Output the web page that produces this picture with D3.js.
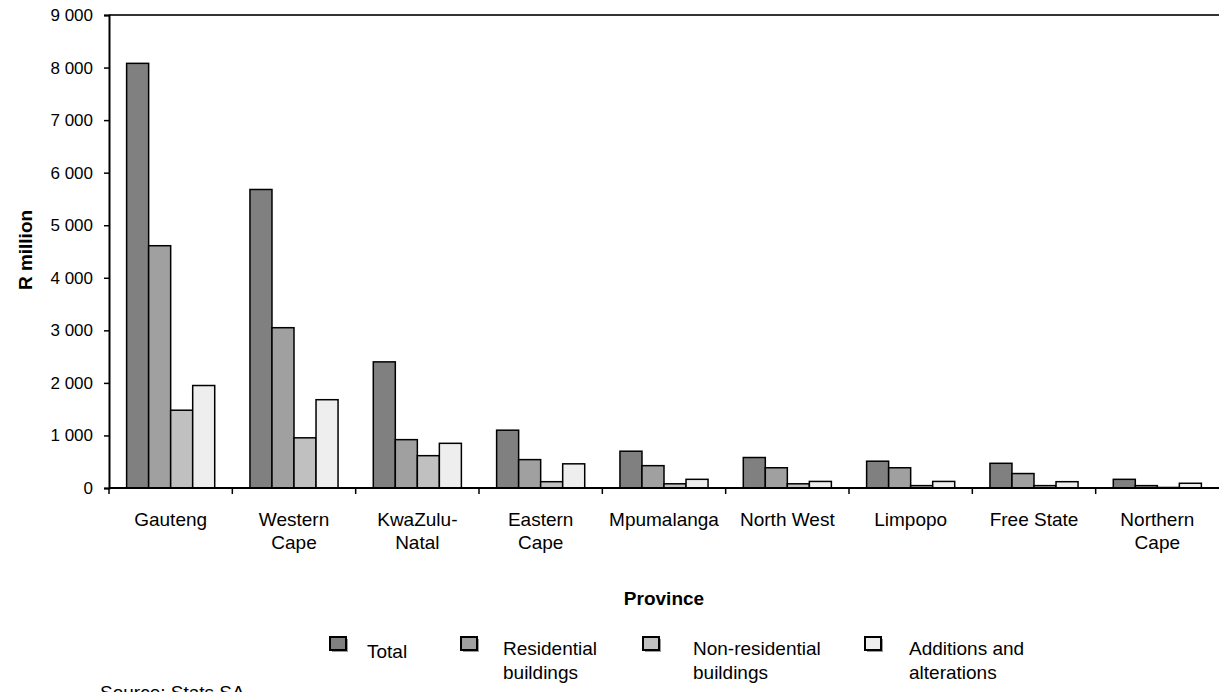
<!DOCTYPE html>
<html>
<head>
<meta charset="utf-8">
<script src="https://cdn.jsdelivr.net/npm/d3@7"></script>
<style>
  html, body { margin: 0; padding: 0; background: #fff; }
  svg { display: block; font-family: "Liberation Sans", Arial, sans-serif; }
</style>
</head>
<body>
<svg id="chart" width="1219" height="692"></svg>
<script>
// ---- data ----
const provinces = ["Gauteng", "Western Cape", "KwaZulu-Natal", "Eastern Cape", "Mpumalanga", "North West", "Limpopo", "Free State", "Northern Cape"];
const provinceLabels = [["Gauteng"], ["Western", "Cape"], ["KwaZulu-", "Natal"], ["Eastern", "Cape"], ["Mpumalanga"], ["North West"], ["Limpopo"], ["Free State"], ["Northern", "Cape"]];
const seriesNames = ["Total", "Residential buildings", "Non-residential buildings", "Additions and alterations"];
const legendLabels = [["Total"], ["Residential", "buildings"], ["Non-residential", "buildings"], ["Additions and", "alterations"]];
const total = [8080, 5680, 2400, 1100, 700, 580, 510, 470, 165];
const residential = [4610, 3050, 920, 540, 425, 385, 385, 275, 45];
const nonResidential = [1480, 955, 615, 120, 80, 80, 45, 45, 10];
const additions = [1950, 1680, 850, 460, 165, 125, 125, 120, 90];
const yTicks = [0, 1000, 2000, 3000, 4000, 5000, 6000, 7000, 8000, 9000];
const seriesColors = ["#808080", "#a0a0a0", "#c0c0c0", "#eeeeee"];

const seriesValues = [total, residential, nonResidential, additions];

(function () {
// ---- layout ----
const svg = d3.select("#chart");
const mLeft = 109, mRight = 1219, mTop = 15, mBottom = 488;
const fs = 19;

const x0 = d3.scaleBand().domain(provinces).range([mLeft, mRight]).padding(0);
const x1 = d3.scaleBand().domain(seriesNames).range([0, x0.bandwidth()]).paddingInner(0).paddingOuter(0.8);
const y = d3.scaleLinear().domain([0, 9000]).range([mBottom, mTop]);
const color = d3.scaleOrdinal().domain(seriesNames).range(seriesColors);

// top frame line
svg.append("line")
  .attr("x1", mLeft).attr("x2", mRight).attr("y1", mTop).attr("y2", mTop)
  .attr("stroke", "#333").attr("stroke-width", 2);

// bars
const groups = svg.append("g").selectAll("g")
  .data(provinces).join("g")
  .attr("transform", d => `translate(${x0(d)},0)`);

groups.selectAll("rect")
  .data((d, i) => seriesNames.map((s, j) => ({ s, v: seriesValues[j][i] })))
  .join("rect")
  .attr("x", d => x1(d.s))
  .attr("y", d => y(d.v))
  .attr("width", x1.bandwidth())
  .attr("height", d => y(0) - y(d.v))
  .attr("fill", d => color(d.s))
  .attr("stroke", "#000")
  .attr("stroke-width", 1.5);

// y axis
const yAxis = d3.axisLeft(y).tickValues(yTicks).tickSize(5).tickPadding(11)
  .tickFormat(d => d3.format(",")(d).replace(/,/g, " "));
const gy = svg.append("g").attr("transform", `translate(${mLeft},0)`).call(yAxis);
gy.select(".domain").attr("stroke", "#000").attr("stroke-width", 2);
gy.selectAll(".tick line").attr("stroke", "#000").attr("stroke-width", 1.5);
gy.selectAll(".tick text").attr("font-size", 17).attr("font-family", "Liberation Sans, Arial, sans-serif").attr("fill", "#000");

// x axis (ticks at category boundaries)
svg.append("line")
  .attr("x1", mLeft).attr("x2", mRight).attr("y1", mBottom).attr("y2", mBottom)
  .attr("stroke", "#000").attr("stroke-width", 2);
const boundaries = provinces.map(p => x0(p));
svg.append("g").selectAll("line").data(boundaries).join("line")
  .attr("x1", d => d).attr("x2", d => d)
  .attr("y1", mBottom).attr("y2", mBottom + 6)
  .attr("stroke", "#000").attr("stroke-width", 1.5);

// x labels
const xl = svg.append("g").selectAll("text").data(provinces).join("text")
  .attr("x", d => x0(d) + x0.bandwidth() / 2)
  .attr("y", 526)
  .attr("text-anchor", "middle")
  .attr("font-size", fs)
  .attr("fill", "#000");
xl.each(function(d, i) {
  const t = d3.select(this);
  provinceLabels[i].forEach((line, k) => {
    t.append("tspan").attr("x", x0(d) + x0.bandwidth() / 2).attr("dy", k === 0 ? 0 : 23).text(line);
  });
});

// axis titles
svg.append("text")
  .attr("x", (mLeft + mRight) / 2).attr("y", 605)
  .attr("text-anchor", "middle").attr("font-weight", "bold")
  .attr("font-size", fs).text("Province");

svg.append("text")
  .attr("transform", "translate(32,250) rotate(-90)")
  .attr("text-anchor", "middle").attr("font-weight", "bold")
  .attr("font-size", fs).text("R million");

// legend
const legendSquareX = [330, 461, 643, 865];
const legendTextX = [367, 503, 693, 909];
const lg = svg.append("g").selectAll("g").data(seriesNames).join("g");
lg.append("rect")
  .attr("x", (d, i) => legendSquareX[i] + 2).attr("y", 639)
  .attr("width", 16).attr("height", 13)
  .attr("fill", "#999");
lg.append("rect")
  .attr("x", (d, i) => legendSquareX[i]).attr("y", 637)
  .attr("width", 16).attr("height", 13)
  .attr("fill", d => color(d)).attr("stroke", "#000").attr("stroke-width", 2);
lg.append("text")
  .attr("x", (d, i) => legendTextX[i])
  .attr("y", (d, i) => legendLabels[i].length === 1 ? 658 : 655)
  .attr("font-size", fs)
  .each(function(d, i) {
    const t = d3.select(this);
    legendLabels[i].forEach((line, k) => {
      t.append("tspan").attr("x", legendTextX[i]).attr("dy", k === 0 ? 0 : 24).text(line);
    });
  });

// source
svg.append("text")
  .attr("x", 100).attr("y", 699)
  .attr("font-size", fs).text("Source: Stats SA");
})();
</script>
</body>
</html>
